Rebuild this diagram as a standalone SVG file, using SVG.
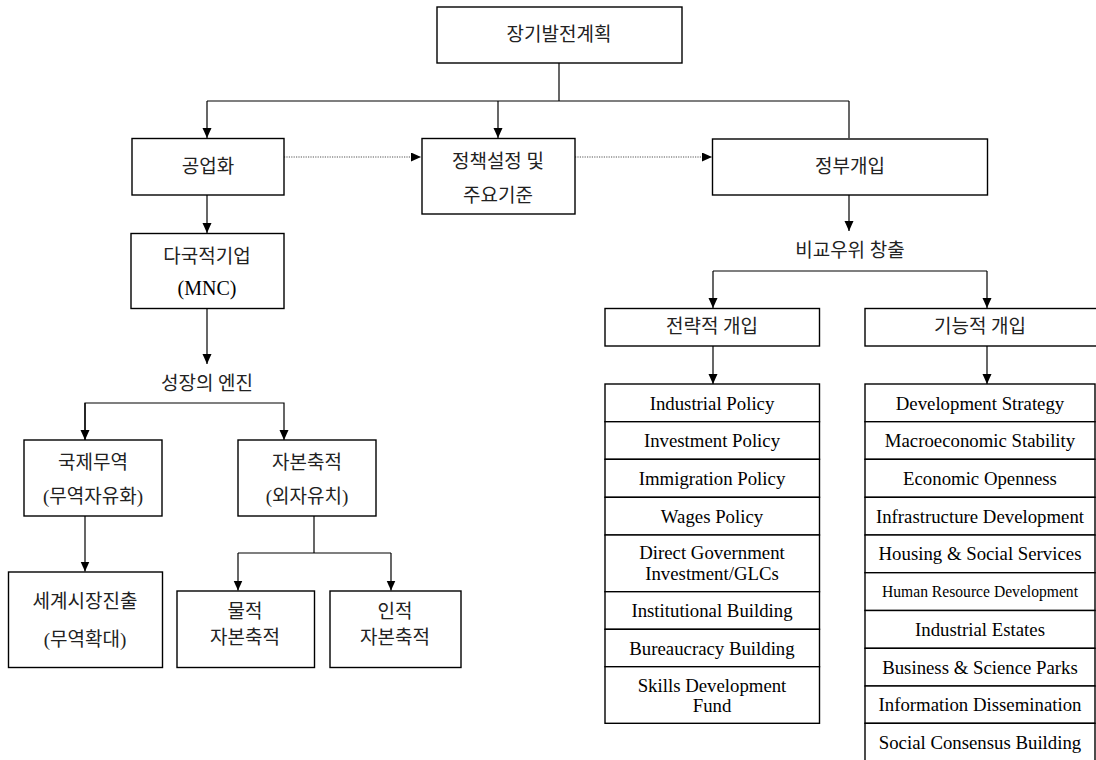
<svg xmlns="http://www.w3.org/2000/svg" width="1096" height="760" viewBox="0 0 1096 760">
<style>
.box{fill:#fff;stroke:#000;stroke-width:1.4}
.ln{fill:none;stroke:#000;stroke-width:1.2}
.dot{fill:none;stroke:#555;stroke-width:1.2;stroke-dasharray:1.2 1.2}
.kr{font-family:"Liberation Serif","Noto Sans CJK KR",serif;font-size:19px;fill:#222;text-anchor:middle;dominant-baseline:central}
.en{font-family:"Liberation Serif","Times New Roman",serif;font-size:18.8px;fill:#000;text-anchor:middle;dominant-baseline:central}
</style>
<defs>
<marker id="ah" markerUnits="userSpaceOnUse" markerWidth="11" markerHeight="10" refX="10" refY="4.5" orient="auto">
<path d="M0,0 L10,4.5 L0,9 z" fill="#000"/>
</marker>
</defs>
<rect width="1096" height="760" fill="#fff"/>
<g id="connectors">
<path class="ln" d="M559,63 V101"/>
<path class="ln" d="M207,101 H849"/>
<path class="ln" d="M207,101 V138" marker-end="url(#ah)"/>
<path class="ln" d="M498,101 V138" marker-end="url(#ah)"/>
<path class="ln" d="M849,101 V138"/>
<path class="dot" d="M284,157 H421" marker-end="url(#ah)"/>
<path class="dot" d="M575,157 H712" marker-end="url(#ah)"/>
<path class="ln" d="M207,195 V233" marker-end="url(#ah)"/>
<path class="ln" d="M207,308 V364" marker-end="url(#ah)"/>
<path class="ln" d="M85,440 V403 H284 V440" marker-end="url(#ah)"/>
<path class="ln" d="M85,403 V440" marker-end="url(#ah)"/>
<path class="ln" d="M85,516 V571.5" marker-end="url(#ah)"/>
<path class="ln" d="M314,516 V553"/>
<path class="ln" d="M238,553 H391"/>
<path class="ln" d="M238,553 V590.5" marker-end="url(#ah)"/>
<path class="ln" d="M391,553 V590.5" marker-end="url(#ah)"/>
<path class="ln" d="M849,195 V231" marker-end="url(#ah)"/>
<path class="ln" d="M713,271 H987"/>
<path class="ln" d="M713,271 V308" marker-end="url(#ah)"/>
<path class="ln" d="M987,271 V308" marker-end="url(#ah)"/>
<path class="ln" d="M713,346 V384" marker-end="url(#ah)"/>
<path class="ln" d="M987,346 V384" marker-end="url(#ah)"/>
</g>
<g id="n-plan"><rect class="box" x="437" y="7" width="245" height="56"/><text class="kr" x="559" y="34">장기발전계획</text></g>
<g id="n-industrialization"><rect class="box" x="132" y="138.5" width="152" height="56.5"/><text class="kr" x="208" y="166">공업화</text></g>
<g id="n-policy"><rect class="box" x="422" y="138.5" width="153" height="75.5"/><text class="kr" x="498" y="161">정책설정 및</text><text class="kr" x="498" y="195">주요기준</text></g>
<g id="n-gov"><rect class="box" x="712.5" y="139" width="275" height="56"/><text class="kr" x="850" y="166">정부개입</text></g>
<g id="n-mnc"><rect class="box" x="131" y="233.5" width="153" height="75"/><text class="kr" x="207" y="256">다국적기업</text><text class="en" x="207" y="288" style="font-size:20px">(MNC)</text></g>
<text id="t-engine" class="kr" x="207" y="383">성장의 엔진</text>
<g id="n-trade"><rect class="box" x="24" y="440" width="138" height="76"/><text class="kr" x="93" y="462">국제무역</text><text class="kr" x="93" y="496">(무역자유화)</text></g>
<g id="n-capital"><rect class="box" x="238" y="440" width="138" height="76"/><text class="kr" x="307" y="462">자본축적</text><text class="kr" x="307" y="496">(외자유치)</text></g>
<g id="n-world"><rect class="box" x="8.5" y="572" width="154" height="95.5"/><text class="kr" x="85" y="601">세계시장진출</text><text class="kr" x="85" y="639">(무역확대)</text></g>
<g id="n-physical"><rect class="box" x="177" y="591" width="137.5" height="76.5"/><text class="kr" x="245" y="611">물적</text><text class="kr" x="245" y="637">자본축적</text></g>
<g id="n-human"><rect class="box" x="330" y="591" width="131" height="76.5"/><text class="kr" x="395" y="611">인적</text><text class="kr" x="395" y="637">자본축적</text></g>
<text id="t-comparative" class="kr" x="850" y="250">비교우위 창출</text>
<g id="n-strategic"><rect class="box" x="605" y="308.5" width="214.5" height="37.5"/><text class="kr" x="712" y="326">전략적 개입</text></g>
<g id="n-functional"><rect class="box" x="865" y="308.5" width="235" height="37.5"/><text class="kr" x="980" y="326">기능적 개입</text></g>
<g id="n-strategic-list">
<rect class="box" x="605" y="384" width="214.5" height="37.7"/><text class="en" x="712" y="403">Industrial Policy</text>
<rect class="box" x="605" y="421.7" width="214.5" height="37.6"/><text class="en" x="712" y="440.5">Investment Policy</text>
<rect class="box" x="605" y="459.3" width="214.5" height="38"/><text class="en" x="712" y="478.3">Immigration Policy</text>
<rect class="box" x="605" y="497.3" width="214.5" height="37.7"/><text class="en" x="712" y="516">Wages Policy</text>
<rect class="box" x="605" y="535" width="214.5" height="56.7"/><text class="en" x="712" y="552.5">Direct Government</text><text class="en" x="712" y="573.5">Investment/GLCs</text>
<rect class="box" x="605" y="591.7" width="214.5" height="37.6"/><text class="en" x="712" y="610.5">Institutional Building</text>
<rect class="box" x="605" y="629.3" width="214.5" height="37.4"/><text class="en" x="712" y="648">Bureaucracy Building</text>
<rect class="box" x="605" y="666.7" width="214.5" height="56.6"/><text class="en" x="712" y="685">Skills Development</text><text class="en" x="712" y="705">Fund</text>
</g>
<g id="n-functional-list">
<rect class="box" x="865" y="384" width="230" height="37.7"/><text class="en" x="980" y="403">Development Strategy</text>
<rect class="box" x="865" y="421.7" width="230" height="37.6"/><text class="en" x="980" y="440.5">Macroeconomic Stability</text>
<rect class="box" x="865" y="459.3" width="230" height="38"/><text class="en" x="980" y="478.3">Economic Openness</text>
<rect class="box" x="865" y="497.3" width="230" height="37.7"/><text class="en" x="980" y="516">Infrastructure Development</text>
<rect class="box" x="865" y="535" width="230" height="37.7"/><text class="en" x="980" y="553.8">Housing &amp; Social Services</text>
<rect class="box" x="865" y="572.7" width="230" height="37.8"/><text class="en" x="980" y="591.5" style="font-size:16px" textLength="196" lengthAdjust="spacingAndGlyphs">Human Resource Development</text>
<rect class="box" x="865" y="610.5" width="230" height="37.8"/><text class="en" x="980" y="629.4">Industrial Estates</text>
<rect class="box" x="865" y="648.3" width="230" height="37.7"/><text class="en" x="980" y="667">Business &amp; Science Parks</text>
<rect class="box" x="865" y="686" width="230" height="37.3"/><text class="en" x="980" y="704.6">Information Dissemination</text>
<rect class="box" x="865" y="723.3" width="230" height="40"/><text class="en" x="980" y="742">Social Consensus Building</text>
</g>
</svg>
